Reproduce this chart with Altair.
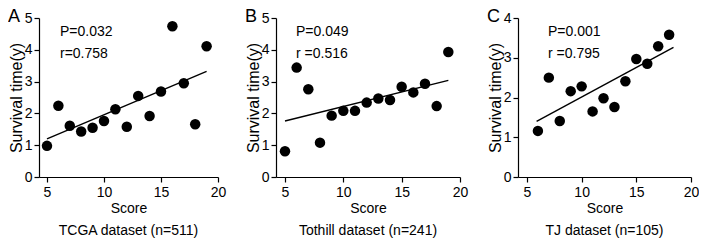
import altair as alt
import pandas as pd

FONT = "Liberation Sans"

# Panel A (TCGA)
a_score = [5, 6, 7, 8, 9, 10, 11, 12, 13, 14, 15, 16, 17, 18, 19]
a_surv = [0.98, 2.24, 1.61, 1.43, 1.55, 1.76, 2.13, 1.58, 2.55, 1.92, 2.69, 4.74, 2.95, 1.66, 4.11]
# Panel B (Tothill)
b_score = [5, 6, 7, 8, 9, 10, 11, 12, 13, 14, 15, 16, 17, 18, 19]
b_surv = [0.81, 3.44, 2.76, 1.08, 1.93, 2.08, 2.08, 2.34, 2.47, 2.42, 2.84, 2.66, 2.93, 2.23, 3.93]
# Panel C (TJ)
c_score = [6, 7, 8, 9, 10, 11, 12, 13, 14, 15, 16, 17, 18]
c_surv = [1.16, 2.50, 1.41, 2.16, 2.28, 1.65, 1.98, 1.76, 2.41, 2.97, 2.85, 3.29, 3.58]

letters = ["A", "B", "C"]
p_texts = ["P=0.032", "P=0.049", "P=0.001"]
r_texts = ["r=0.758", "r =0.516", "r =0.795"]
titles = ["TCGA dataset (n=511)", "Tothill dataset (n=241)", "TJ dataset (n=105)"]
x_ticks = [5, 10, 15, 20]


def panel(score, surv, letter, ptxt, rtxt, title, xmin, ymax, extent, width, txt_x):
    df = pd.DataFrame({"x": score, "y": surv})
    base = alt.Chart(df)
    xs = alt.Scale(domain=[xmin, 20], nice=False, zero=False)
    ys = alt.Scale(domain=[0, ymax], nice=False)
    y_vals = list(range(0, ymax + 1))
    xax = alt.Axis(values=x_ticks, tickCount=10, format="d", title="Score",
                   titleFontSize=14, titlePadding=2, labelOverlap=False)
    yax = alt.Axis(values=y_vals, tickCount=10, format="d", title="Survival time(y)",
                   titleFontSize=16, titlePadding=0, labelOverlap=False)
    pts = base.mark_circle(size=110, color="#000000", opacity=1).encode(
        x=alt.X("x:Q", scale=xs, axis=xax),
        y=alt.Y("y:Q", scale=ys, axis=yax),
    )
    line = base.transform_regression("x", "y", extent=extent).mark_line(
        color="#000000", strokeWidth=1.4
    ).encode(x=alt.X("x:Q", scale=xs, axis=xax), y=alt.Y("y:Q", scale=ys, axis=yax))
    one = pd.DataFrame({"p": [ptxt], "r": [rtxt], "l": [letter]})
    tstyle = dict(align="left", baseline="alphabetic", fontSize=14, font=FONT, color="#000000")
    ptx = alt.Chart(one).mark_text(**tstyle).encode(
        text="p:N", x=alt.value(txt_x), y=alt.value(18))
    rtx = alt.Chart(one).mark_text(**tstyle).encode(
        text="r:N", x=alt.value(txt_x), y=alt.value(40))
    let = alt.Chart(one).mark_text(
        align="left", baseline="alphabetic", fontSize=18, font=FONT, color="#000000"
    ).encode(text="l:N", x=alt.value(-31), y=alt.value(4))
    return alt.layer(pts, line, ptx, rtx, let).properties(
        width=width, height=159,
        title=alt.TitleParams(title, orient="bottom", fontSize=14, font=FONT,
                              fontWeight="normal", color="#000000", offset=9),
    )


pa = panel(a_score, a_surv, letters[0], p_texts[0], r_texts[0], titles[0], 4.3, 5, [5, 19], 179, 21)
pb = panel(b_score, b_surv, letters[1], p_texts[1], r_texts[1], titles[1], 4.23, 5, [5, 19], 184, 20)
pc = panel(c_score, c_surv, letters[2], p_texts[2], r_texts[2], titles[2], 4.18, 4, [5.88, 18.4], 173, 30)

chart = alt.hconcat(pa, pb, pc, spacing=19).properties(
    padding=0
).configure_view(stroke=None).configure_axis(
    grid=False, domainColor="#000000", tickColor="#000000", tickSize=5,
    labelFontSize=14, labelFont=FONT, labelColor="#000000", labelPadding=2,
    labelFlush=False,
    titleFont=FONT, titleFontWeight="normal", titleColor="#000000",
    domainWidth=1.2, tickWidth=1.2,
).configure_axisX(labelPadding=3)

chart.save("out.html", embed_options={"renderer": "svg", "actions": False})
